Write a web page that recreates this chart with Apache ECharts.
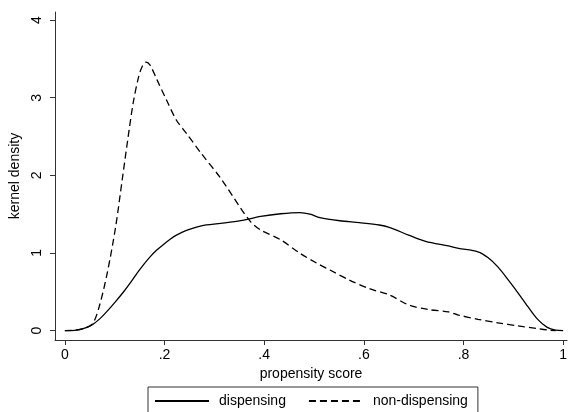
<!DOCTYPE html>
<html>
<head>
<meta charset="utf-8">
<script src="https://cdn.jsdelivr.net/npm/echarts@6/dist/echarts.min.js"></script>
<style>
  html, body { margin: 0; padding: 0; background: #fff; }
  #chart { width: 570px; height: 412px; }
</style>
</head>
<body>
<div id="chart"></div>
<script>
// Kernel density estimates of the propensity score, [score, density]
const dispensing = [
  [0, 0], [0.02, 0.003], [0.04, 0.03], [0.056, 0.08], [0.07, 0.15], [0.085, 0.25],
  [0.1, 0.36], [0.118, 0.5], [0.132, 0.62], [0.145, 0.74], [0.158, 0.85], [0.171, 0.95],
  [0.185, 1.04], [0.198, 1.11], [0.212, 1.18], [0.224, 1.23], [0.244, 1.29], [0.274, 1.35],
  [0.313, 1.38], [0.353, 1.415], [0.393, 1.47], [0.433, 1.505], [0.472, 1.52], [0.492, 1.5],
  [0.512, 1.455], [0.552, 1.415], [0.591, 1.39], [0.631, 1.36], [0.651, 1.33], [0.69, 1.23],
  [0.724, 1.15], [0.77, 1.09], [0.79, 1.06], [0.829, 1.015], [0.849, 0.94], [0.869, 0.82],
  [0.889, 0.66], [0.909, 0.49], [0.929, 0.31], [0.948, 0.15], [0.968, 0.04], [0.985, 0.005],
  [1.0, 0]
];
const nonDispensing = [
  [0, 0], [0.02, 0.003], [0.04, 0.03], [0.056, 0.09], [0.069, 0.31], [0.085, 0.74],
  [0.102, 1.34], [0.115, 1.94], [0.126, 2.45], [0.137, 2.93], [0.148, 3.27], [0.155, 3.4],
  [0.163, 3.46], [0.171, 3.42], [0.185, 3.23], [0.204, 2.97], [0.224, 2.71], [0.244, 2.54],
  [0.274, 2.28], [0.313, 1.96], [0.353, 1.575], [0.373, 1.4], [0.393, 1.295], [0.433, 1.17],
  [0.472, 0.995], [0.505, 0.87], [0.532, 0.78], [0.571, 0.65], [0.611, 0.54], [0.651, 0.46],
  [0.69, 0.33], [0.73, 0.27], [0.77, 0.24], [0.79, 0.2], [0.829, 0.145], [0.869, 0.1],
  [0.909, 0.06], [0.948, 0.025], [0.974, 0.003], [0.985, 0]
];
const xTicks = [0, 0.2, 0.4, 0.6, 0.8, 1];
const yTicks = [0, 1, 2, 3, 4];
const seriesNames = ['dispensing', 'non-dispensing'];

const FONT = 'Liberation Sans, Arial, sans-serif';
const fmtX = v => (v === 0 ? '0' : v === 1 ? '1' : String(+v.toFixed(1)).replace(/^0/, ''));

const chart = echarts.init(document.getElementById('chart'), null, { renderer: 'canvas' });
chart.setOption({
  backgroundColor: '#fff',
  animation: false,
  grid: { left: 52, right: 0, top: 12, bottom: 72, containLabel: false },
  xAxis: {
    type: 'value',
    min: -0.0198,
    max: 1.0079,
    name: 'propensity score',
    nameLocation: 'middle',
    nameGap: 24,
    nameTextStyle: { color: '#000', fontFamily: FONT, fontSize: 14 },
    axisLine: { show: true, onZero: false, lineStyle: { color: '#333', width: 1 } },
    axisTick: { show: true, length: 5, customValues: xTicks, lineStyle: { color: '#333' } },
    axisLabel: { customValues: xTicks, formatter: fmtX, color: '#000', fontFamily: FONT, fontSize: 14, margin: 8 },
    splitLine: { show: false }
  },
  yAxis: {
    type: 'value',
    min: -0.122,
    max: 4.105,
    name: 'kernel density',
    nameLocation: 'middle',
    nameGap: 33,
    nameTextStyle: { color: '#000', fontFamily: FONT, fontSize: 14 },
    axisLine: { show: true, onZero: false, lineStyle: { color: '#333', width: 1 } },
    axisTick: { show: true, length: 5, customValues: yTicks, lineStyle: { color: '#333' } },
    axisLabel: { customValues: yTicks, rotate: 90, color: '#000', fontFamily: FONT, fontSize: 14, margin: 11 },
    splitLine: { show: false }
  },
  legend: {
    left: 148,
    top: 387,
    padding: [7, 10, 30, 6],
    borderColor: '#333',
    borderWidth: 1,
    itemWidth: 54,
    itemHeight: 14,
    itemGap: 22,
    data: seriesNames,
    itemStyle: { opacity: 0 },
    textStyle: { color: '#000', fontFamily: FONT, fontSize: 14, padding: [0, 0, 0, 5] }
  },
  series: [
    {
      name: seriesNames[0],
      type: 'line',
      data: dispensing,
      smooth: 0.3,
      showSymbol: false,
      symbol: 'none',
      lineStyle: { color: '#000', width: 1.3, type: 'solid' },
      itemStyle: { color: '#000' },
      z: 3
    },
    {
      name: seriesNames[1],
      type: 'line',
      data: nonDispensing,
      smooth: 0.3,
      showSymbol: false,
      symbol: 'none',
      lineStyle: { color: '#000', width: 1.3, type: [7, 4] },
      itemStyle: { color: '#000' },
      z: 2
    }
  ]
});
</script>
</body>
</html>
